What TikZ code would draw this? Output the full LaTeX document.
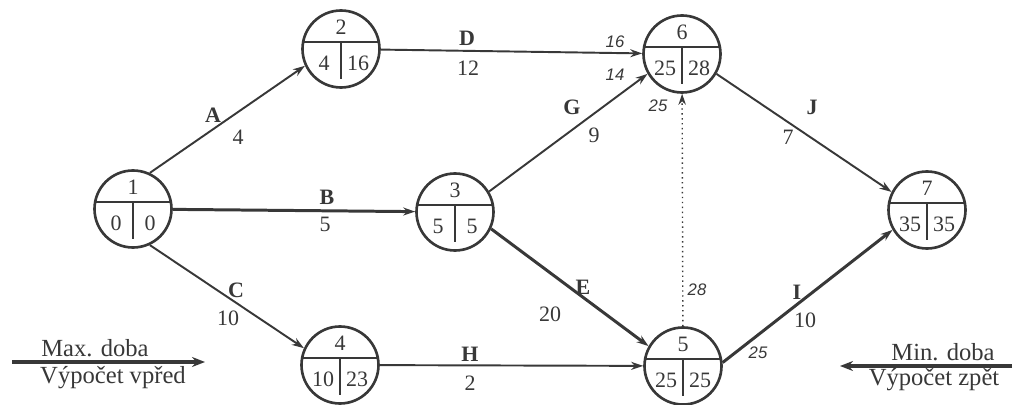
\documentclass[tikz,border=0pt]{standalone}
\usepackage{fontspec}
\setmainfont{Liberation Serif}
\newfontfamily\smallsans{Liberation Sans}
\usetikzlibrary{arrows.meta,calc,positioning}
\definecolor{ink}{gray}{0.22}
\tikzset{
  event/.style     = {circle, draw=ink, line width=1.5pt, minimum size=15.4mm, inner sep=0pt},
  divline/.style   = {draw=ink, line width=1.2pt},
  evnum/.style     = {font=\fontsize{12.5}{14}\selectfont, text=ink, inner sep=0pt},
  actname/.style   = {font=\fontsize{12.5}{14}\selectfont\bfseries, text=ink, inner sep=0pt},
  actdur/.style    = {font=\fontsize{12.5}{14}\selectfont, text=ink, inner sep=0pt},
  timenote/.style  = {font=\smallsans\itshape\fontsize{9.5}{11}\selectfont, text=ink, inner sep=0pt},
  capt/.style      = {font=\fontsize{14}{16}\selectfont, text=ink, inner sep=0pt},
  act/.style       = {draw=ink, line width=1.1pt, -{Stealth[length=2.4mm,width=1.6mm]}},
  critact/.style   = {act, line width=1.7pt},
  dummy/.style     = {draw=ink, line width=0.8pt, dotted, -{Stealth[length=2.2mm,width=1.5mm]}},
  direction/.style = {draw=ink, line width=2.2pt, -{Stealth[length=2.6mm,width=2mm]}},
}
% event: name, x, y, number, earliest, latest
\newcommand\event[6]{%
  \node[event] (#1) at (#2,#3) {};
  \draw[divline] (#1.170) -- (#1.10);
  \draw[divline] ($(#1.center)+(0,-7)$) -- ($(#1.center)+(0,30)$);
  \node[evnum] (#1-n) at ($(#1.center)+(0,-22)$) {#4};
  \node[evnum] (#1-e) at ($(#1.center)+(-17,14)$) {#5};
  \node[evnum] (#1-l) at ($(#1.center)+(17,14)$) {#6};
}

\begin{document}
\begin{tikzpicture}[x=0.2mm,y=-0.2mm]
  \useasboundingbox (0,0) rectangle (1017,405);

  \event{n1}{133}{209}{1}{0}{0}
  \event{n2}{341}{49}{2}{4}{16}
  \event{n3}{455}{212}{3}{5}{5}
  \event{n4}{340}{365}{4}{10}{23}
  \event{n5}{683}{366}{5}{25}{25}
  \event{n6}{682}{54}{6}{25}{28}
  \event{n7}{927}{210}{7}{35}{35}

  % activities
  \draw[act]     (n1.65) -- (n2.205);
  \draw[critact] (n1) -- (n3);
  \draw[act]     (n1.-65) -- (n4.155);
  \draw[act]     (n2) -- (n6);
  \draw[act]     (n3.31) -- (n6.210);
  \draw[critact] (n3.-25) -- (n5.150);
  \draw[act]     (n4) -- (n5);
  \draw[critact] (n5.5) -- (n7.210);
  \draw[act]     (n6.-30) -- (n7.153);
  \draw[dummy]   (n5) -- (n6);

  \node[actname] (lA) at (213,115) {A};  \node[actdur] (dA) at (238,137) {4};
  \node[actname] (lB) at (327,197) {B};  \node[actdur] (dB) at (325,224) {5};
  \node[actname] (lC) at (236,290) {C};  \node[actdur] (dC) at (228,318) {10};
  \node[actname] (lD) at (467,38)  {D};  \node[actdur] (dD) at (468,68)  {12};
  \node[actname] (lG) at (572,107) {G};  \node[actdur] (dG) at (594,135) {9};
  \node[actname] (lE) at (583,287) {E};  \node[actdur] (dE) at (550,314) {20};
  \node[actname] (lH) at (470,354) {H};  \node[actdur] (dH) at (470,383) {2};
  \node[actname] (lI) at (797,292) {I};  \node[actdur] (dI) at (805,320) {10};
  \node[actname] (lJ) at (812,107) {J};  \node[actdur] (dJ) at (788,137) {7};

  \node[timenote] (t1) at (615,42)  {16};
  \node[timenote] (t2) at (615,75)  {14};
  \node[timenote] (t3) at (658,106) {25};
  \node[timenote] (t4) at (697,290) {28};
  \node[timenote] (t5) at (758,353) {25};

  % directions of the calculation
  \coordinate (fwA) at (12,362);
  \coordinate (fwB) at (205,362);
  \draw[direction] (fwA) -- (fwB);
  \node[capt] (fwT) at (95,348)  {Max. doba};
  \node[capt] (fwU) at (113,378) {Výpočet vpřed};

  \coordinate (bwA) at (1012,366);
  \coordinate (bwB) at (840,366);
  \draw[direction] (bwA) -- (bwB);
  \node[capt] (bwT) at (943,352) {Min. doba};
  \node[capt] (bwU) at (934,380) {Výpočet zpět};
\end{tikzpicture}
\end{document}
